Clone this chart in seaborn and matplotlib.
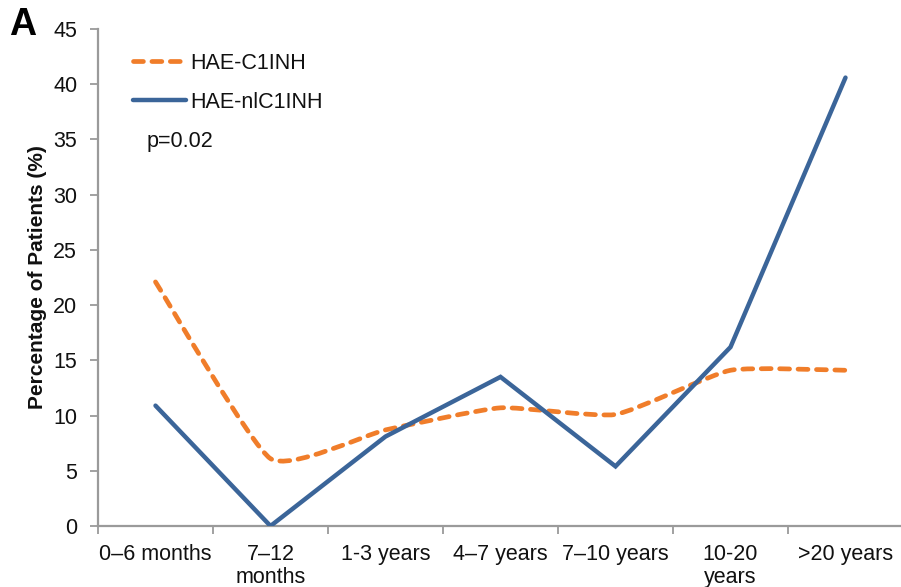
import numpy as np
import pandas as pd
import matplotlib
matplotlib.use("Agg")
import matplotlib.pyplot as plt
from matplotlib.path import Path
from matplotlib.patches import PathPatch
from matplotlib.lines import Line2D
import seaborn as sns

categories = ["0–6 months", "7–12\nmonths", "1-3 years", "4–7 years",
              "7–10 years", "10-20\nyears", ">20 years"]
hae_c1inh = [22.1, 6.1, 8.7, 10.7, 10.1, 14.1, 14.1]
hae_nlc1inh = [10.9, 0.0, 8.1, 13.5, 5.4, 16.2, 40.6]
y_ticks = [0, 5, 10, 15, 20, 25, 30, 35, 40, 45]

ORANGE = "#F07D2A"
BLUE = "#3B6599"
AXIS_GRAY = "#9a9a9a"
TEXT = "#111111"
FS = 15.5

sns.set_theme(style="white")
plt.rcParams["font.family"] = ["Liberation Sans", "DejaVu Sans"]

df = pd.DataFrame({
    "pos": np.arange(len(categories)),
    "HAE-C1INH": hae_c1inh,
    "HAE-nlC1INH": hae_nlc1inh,
})

fig = plt.figure(figsize=(9.01, 5.87), dpi=100)
ax = fig.add_axes([98 / 901, 1 - 526 / 587, 805 / 901, 497 / 587])

# solid series drawn straight
sns.lineplot(data=df, x="pos", y="HAE-nlC1INH", ax=ax, color=BLUE,
             linewidth=3.2, zorder=3, solid_capstyle="round",
             solid_joinstyle="miter")

# dashed series drawn as a lightly smoothed curve
DASH = (0, (2.1, 1.8))
xs = df["pos"].to_numpy(float)
ys = df["HAE-C1INH"].to_numpy(float)
pts = np.column_stack([xs, ys])
verts = [pts[0]]
codes = [Path.MOVETO]
n = len(pts)
k = 12.0
for i in range(n - 1):
    p0 = pts[i - 1] if i > 0 else pts[i]
    p1 = pts[i]
    p2 = pts[i + 1]
    p3 = pts[i + 2] if i + 2 < n else pts[i + 1]
    c1 = p1 + (p2 - p0) / k
    c2 = p2 - (p3 - p1) / k
    verts += [c1, c2, p2]
    codes += [Path.CURVE4] * 3
smooth = PathPatch(Path(verts, codes), facecolor="none", edgecolor=ORANGE,
                   linewidth=3.4, linestyle=DASH, zorder=2, capstyle="round")
ax.add_patch(smooth)

ax.set_xlim(-0.5, len(categories) - 0.5)
ax.set_ylim(0, 45)
ax.set_yticks(y_ticks)
ax.set_yticklabels([str(t) for t in y_ticks], fontsize=FS, color=TEXT)
ax.set_xticks(np.arange(len(categories)))
ax.set_xticklabels(categories, fontsize=FS, color=TEXT, linespacing=1.12)
ax.set_xticks(np.arange(len(categories) + 1) - 0.5, minor=True)
ax.tick_params(axis="x", which="major", length=0, pad=13)
ax.tick_params(axis="x", which="minor", length=6, width=1.3, color=AXIS_GRAY,
               direction="out", bottom=True)
ax.tick_params(axis="y", which="major", length=6, width=1.3, color=AXIS_GRAY,
               direction="out", left=True, pad=9)

ax.set_xlabel("")
ax.set_ylabel("Percentage of Patients (%)", fontsize=15, fontweight="bold",
              color=TEXT, labelpad=4)

for side in ("top", "right"):
    ax.spines[side].set_visible(False)
for side in ("left", "bottom"):
    ax.spines[side].set_color(AXIS_GRAY)
    ax.spines[side].set_linewidth(1.6)

handles = [
    Line2D([], [], color=ORANGE, linewidth=3.4, linestyle=DASH,
           dash_capstyle="round"),
    Line2D([], [], color=BLUE, linewidth=3.2, solid_capstyle="round"),
]
leg = ax.legend(handles, ["HAE-C1INH", "HAE-nlC1INH"], loc="upper left",
                bbox_to_anchor=(0.033, 0.97), frameon=False, fontsize=FS,
                handlelength=2.45, handletextpad=0.2, labelspacing=0.85,
                borderaxespad=0)
for t in leg.get_texts():
    t.set_color(TEXT)

ax.text(147, 587 - 142, "p=0.02", transform=None, fontsize=FS,
        color=TEXT, va="center", ha="left")
fig.text(9 / 901, 1 - 25 / 587, "A", fontsize=27, fontweight="bold",
         va="center", ha="left", color="black")

fig.savefig("out.png", dpi=100)
